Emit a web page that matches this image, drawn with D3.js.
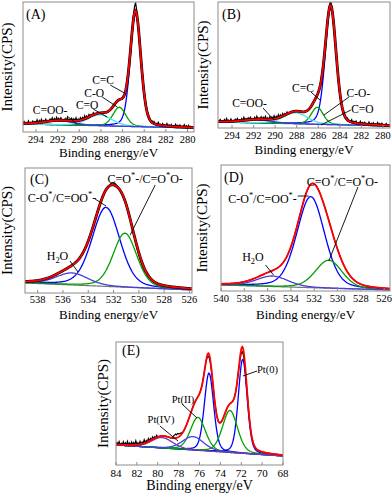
<!DOCTYPE html>
<html>
<head>
<meta charset="utf-8">
<script src="https://cdnjs.cloudflare.com/ajax/libs/d3/7.8.5/d3.min.js"></script>
<style>
	body { margin: 0; background: #fff; }
	text { font-family: "Liberation Serif", "Times New Roman", serif; fill: #000; }
</style>
</head>
<body>
<svg id="fig" width="392" height="494" font-family="Liberation Serif, Times New Roman, serif"></svg>
<script>

// ---- data ---------------------------------------------------------------
// fitted peaks: centre (eV), height and FWHM in intensity units, baseline at both ends

// (A) C 1s
const aTicks   = [294, 292, 290, 288, 286, 284, 282, 280];
const aNames   = ["C=C", "C-O", "C=O", "C=OO-"];
const aCenters = [284.8, 286.3, 288.1, 291.8];
const aHeights = [114, 19, 11, 4];
const aFwhm    = [1.15, 1.4, 2.6, 3.2];
const aBase    = [8, 4];
const aNoise   = [[295.1, 2], [294.9, 1], [294.7, 2.5], [294.5, 1], [294.3, 2], [294.1, 1.5], [293.9, 3], [293.7, 2],
	[293.5, 3], [293.3, 1.5], [293.1, 2.5], [292.9, 1], [292.7, 2], [292.5, 3], [292.3, 2], [292.1, 3], [291.9, 2],
	[291.7, 2.5], [291.5, 1], [291.3, 2], [291.1, 3], [290.9, 1.5], [290.7, 2.5], [290.5, 2], [290.3, 3], [290.1, 1.5],
	[289.9, 2.5], [289.7, 2], [289.5, 3], [289.3, 2], [289.1, 2.5], [288.9, 1.5], [288.7, 2],
	[285.0, 3], [284.9, 6], [284.8, 8], [284.7, 4],
	[284.2, 2], [284.1, 3], [284.0, 3], [283.9, 2.5], [283.8, 2], [283.7, 2],
	[283.3, 1.5], [283.1, 2], [282.9, 1], [282.7, 2.5], [282.5, 1], [282.3, 2], [282.1, 1], [281.9, 2.5], [281.7, 1.5],
	[281.5, 2], [281.3, 1], [281.1, 2.5], [280.9, 1.5], [280.7, 2], [280.5, 1], [280.3, 2.5], [280.1, 1.5], [279.9, 2], [279.7, 1]];

// (B) C 1s
const bTicks   = [294, 292, 290, 288, 286, 284, 282, 280];
const bNames   = ["C=C", "C-O-", "C=O", "C=OO-"];
const bCenters = [284.85, 286.1, 288.1, 291.6];
const bHeights = [117, 17, 11, 3];
const bFwhm    = [1.2, 1.3, 2.6, 3.2];
const bBase    = [6, 2];
const bNoise   = [[295.1, 2], [294.9, 1], [294.7, 2], [294.5, 3], [294.3, 1.5], [294.1, 2.5], [293.9, 1], [293.7, 2],
	[293.5, 2.5], [293.3, 1], [293.1, 2], [292.9, 3], [292.7, 1.5], [292.5, 2], [292.3, 2.5], [292.1, 1], [291.9, 2],
	[291.7, 3], [291.5, 1.5], [291.3, 2.5], [291.1, 2], [290.9, 3], [290.7, 1.5], [290.5, 2.5], [290.3, 2], [290.1, 3],
	[289.9, 2], [289.7, 3], [289.5, 2], [289.3, 2.5], [289.1, 1.5], [288.9, 2],
	[285.0, 2], [284.9, 3], [284.8, 3], [284.7, 1],
	[283.3, 2], [283.1, 1], [282.9, 2.5], [282.7, 1.5], [282.5, 2], [282.3, 1], [282.1, 2.5], [281.9, 1.5], [281.7, 2],
	[281.5, 1], [281.3, 2.5], [281.1, 1.5], [280.9, 2], [280.7, 1], [280.5, 2.5], [280.3, 1.5], [280.1, 2], [279.9, 1], [279.7, 2]];

// (C) O 1s
const cTicks   = [538, 536, 534, 532, 530, 528, 526];
const cNames   = ["C-O*/C=OO*-", "C=O*-/C=O*O-", "H_2O"];
const cCenters = [532.6, 531.1, 535.3];
const cHeights = [79, 54, 12];
const cFwhm    = [2.6, 2.2, 3.0];
const cBase    = [10, 3];
const cNoise   = [[532.2, 1.5], [532.1, 2], [532.0, 2], [531.9, 2], [531.8, 1.5], [531.7, 1],
	[530.2, -1.5], [530.1, -2], [530.0, -2], [529.9, -2], [529.8, -2], [529.7, -1.5], [529.6, -1.5], [529.5, -1]];

// (D) O 1s
const dTicks   = [540, 538, 536, 534, 532, 530, 528, 526];
const dNames   = ["C-O*/C=OO*-", "C=O*/C=O*O-", "H_2O"];
const dCenters = [532.3, 530.75, 535.6];
const dHeights = [91, 28, 10.5];
const dFwhm    = [2.8, 2.7, 3.2];
const dBase    = [6, 1];
const dNoise   = [];

// (E) Pt 4f
const eTicks   = [84, 82, 80, 78, 76, 74, 72, 70, 68];
const eNames   = ["Pt(0)", "Pt(0)", "Pt(II)", "Pt(II)", "Pt(IV)", "Pt(IV)"];
const eCenters = [71.86, 75.09, 73.08, 76.15, 76.62, 79.59];
const eHeights = [94, 78, 42, 33, 13.5, 10.5];
const eFwhm    = [1.0, 1.05, 1.7, 1.7, 2.4, 2.4];
const eBase    = [20, 9];
const eNoise   = [[83.9, 2], [83.7, 3], [83.5, 1.5], [83.3, 3], [83.1, 2], [82.9, 3.5], [82.7, 2], [82.5, 3], [82.3, 2.5],
	[82.1, 4], [81.9, 2], [81.7, 3], [81.5, 2], [81.3, 3.5], [81.1, 2], [80.9, 3], [80.7, 2], [80.5, 2.5], [80.3, 1.5], [80.1, 2],
	[78.5, 2], [78.4, 3], [78.3, 4], [78.2, 3], [78.1, 4], [78.0, 3], [77.9, 2.5], [77.8, 2], [77.7, 1],
	[75.3, -1.5], [75.2, -2.5], [75.1, -3], [75.0, -3], [74.9, -2], [74.8, -1],
	[72.2, -2], [72.1, -3], [72.0, -4], [71.9, -5], [71.8, -5], [71.7, -4], [71.6, -3], [71.5, -1.5]];


// ---- layout ---------------------------------------------------------------

let panels = [
	{ key: "A", box: [23, 2, 194, 132], dom: [295.2, 279.4], ticks: aTicks, names: aNames, centers: aCenters,
	  heights: aHeights, fwhm: aFwhm, base: aBase, noise: aNoise, halo: true,
	  colors: ["#0000ff", "#00a000", "#4fe3e3", "#3a3ae6"],
	  tagPos: [26, 19], ylabX: 12, tickY: 143, titleY: 157, tickFont: 10.5, titleFont: 13, yFont: 15, noteFont: 11.5,
	  // [label index, text eV, text I, line from eV, I, line to eV, I]
	  notes: [[0, 287.8, 48, 287.14, 47, 285.66, 38], [1, 288.62, 35, 287.88, 35, 286.49, 25],
	          [2, 289.27, 23, 288.72, 23, 287.42, 15], [3, 292.7, 18, 291.13, 16, 290.2, 8]] },
	{ key: "B", box: [218, 2, 390, 128], dom: [295.3, 279.35], ticks: bTicks, names: bNames, centers: bCenters,
	  heights: bHeights, fwhm: bFwhm, base: bBase, noise: bNoise, halo: true,
	  colors: ["#0000ff", "#00a000", "#4fe3e3", "#3a3ae6"],
	  tagPos: [222, 19], ylabX: 208, tickY: 139, titleY: 154, tickFont: 10.5, titleFont: 13, yFont: 15, noteFont: 11.5,
	  notes: [[0, 287.42, 36, 286.68, 36, 285.84, 28], [1, 282.28, 31, 283.16, 31, 285.47, 13],
	          [2, 281.91, 15, 282.97, 18, 285.75, 3], [3, 292.38, 21, 291.13, 20, 290.11, 8]] },
	{ key: "C", box: [25, 168, 192, 293], dom: [539, 525.8], ticks: cTicks, names: cNames, centers: cCenters,
	  heights: cHeights, fwhm: cFwhm, base: cBase, noise: cNoise, halo: true,
	  colors: ["#0000ff", "#00a000", "#4a3ed8"],
	  tagPos: [30, 184], ylabX: 12, tickY: 303, titleY: 319, tickFont: 10.5, titleFont: 13, yFont: 15, noteFont: 12,
	  notes: [[0, 536.08, 91, 533.46, 94, 532.59, 87], [1, 529.5, 110, 528.71, 108, 530.69, 58],
	          [2, 536.43, 33, 535.44, 32, 534.81, 21]] },
	{ key: "D", box: [221, 165, 390, 291], dom: [540, 525.5], ticks: dTicks, names: dNames, centers: dCenters,
	  heights: dHeights, fwhm: dFwhm, base: dBase, noise: dNoise, halo: false,
	  colors: ["#0000ff", "#00a000", "#4a3ed8"],
	  tagPos: [224, 182], ylabX: 207, tickY: 302, titleY: 319, tickFont: 10.5, titleFont: 13, yFont: 15, noteFont: 12,
	  notes: [[0, 536.44, 88, 533.42, 95, 532.47, 95], [1, 529.59, 105, 528.25, 104, 530.75, 30],
	          [2, 537.26, 30, 536.18, 26, 535.49, 16]] },
	{ key: "E", box: [116, 342, 283, 465], dom: [84, 68], ticks: eTicks, names: eNames, centers: eCenters,
	  heights: eHeights, fwhm: eFwhm, base: eBase, noise: eNoise, halo: false,
	  colors: ["#0000ff", "#0000ff", "#00a000", "#00a000", "#4040e0", "#7038b8"],
	  tagPos: [122, 355], ylabX: 108, tickY: 477, titleY: 490, tickFont: 11, titleFont: 14, yFont: 15, noteFont: 10.5,
	  notes: [[0, 70.49, 92, 70.49, 94, 71.84, 89, "start"], [2, 77.58, 62, 77.68, 61, 76.24, 47],
	          [4, 79.69, 42, 79.79, 39, 78.06, 24]] }
];

const svg = d3.select("#fig");


function peakShape (e, c, h, w) {
	// Gaussian-Lorentzian mix, as used by the fit
	let t = (e - c) / w;
	return h * (0.75 * Math.exp(-4 * Math.LN2 * t * t) + 0.25 / (1 + 4 * t * t));
}

function richText (sel, str, size) {
	// '*' -> superscript, '_x' -> subscript x
	let segs = [],
		i = 0;
	while (i < str.length) {
		let ch = str[i];
		if (ch === "*") {
			segs.push({ t: "*", shift: -size * 0.38, fs: size * 0.7 });
			i++;
		} else if (ch === "_") {
			segs.push({ t: str[i + 1], shift: size * 0.28, fs: size * 0.7 });
			i += 2;
		} else {
			let last = segs[segs.length - 1];
			if (last && last.shift === 0) last.t += ch;
			else segs.push({ t: ch, shift: 0, fs: size });
			i++;
		}
	}
	let prev = 0;
	segs.forEach(function (s) {
		sel.append("tspan")
			.attr("dy", s.shift - prev)
			.attr("font-size", s.fs)
			.text(s.t);
		prev = s.shift;
	});
}

function drawPanel (p) {

	let [bx0, by0, bx1, by1] = p.box;

	let x = d3.scaleLinear().domain(p.dom).range([bx0, bx1]),
		y = d3.scaleLinear().domain([0, by1 - by0]).range([by1, by0]);

	let g = svg.append("g");

	svg.append("clipPath").attr("id", "clip" + p.key)
		.append("rect")
			.attr("x", bx0).attr("y", by0)
			.attr("width", bx1 - bx0).attr("height", by1 - by0);

	let plot = g.append("g").attr("clip-path", "url(#clip" + p.key + ")");

	let lo = Math.min(p.dom[0], p.dom[1]),
		hi = Math.max(p.dom[0], p.dom[1]);

	let grid = d3.range(Math.round(lo * 20), Math.round(hi * 20) + 1).map(k => k / 20);

	let base = e => p.base[0] + (p.base[1] - p.base[0]) * (e - p.dom[0]) / (p.dom[1] - p.dom[0]),
		comp = (i, e) => peakShape(e, p.centers[i], p.heights[i], p.fwhm[i]),
		env  = e => base(e) + d3.sum(p.centers, (c, i) => comp(i, e));

	let line = d3.line().x(d => x(d[0])).y(d => y(d[1]));

	// baseline
	plot.append("path")
		.datum(grid.map(e => [e, base(e)]))
		.attr("d", line)
		.attr("fill", "none")
		.attr("stroke", "#6f7a70")
		.attr("stroke-width", 1.2);

	// fitted components
	p.centers.forEach(function (c, i) {
		plot.append("path")
			.datum(grid.map(e => [e, base(e) + comp(i, e)]))
			.attr("d", line)
			.attr("fill", "none")
			.attr("stroke", p.colors[i])
			.attr("stroke-width", 1.3);
	});

	// measured curve
	if (p.halo) {
		plot.append("path")
			.datum(grid.map(e => [e, env(e)]))
			.attr("d", line)
			.attr("fill", "none")
			.attr("stroke", "#000")
			.attr("stroke-width", 2.8);
	}

	let noise = new Map(p.noise.map(d => [Math.round(d[0] * 10), d[1]]));
	let grid10 = d3.range(Math.ceil(lo * 10), Math.floor(hi * 10) + 1);

	plot.append("path")
		.datum(grid10.map(k => [k / 10, env(k / 10) + (noise.get(k) || 0)]))
		.attr("d", line)
		.attr("fill", "none")
		.attr("stroke", "#000")
		.attr("stroke-width", 1.2);

	// envelope
	plot.append("path")
		.datum(grid.map(e => [e, env(e)]))
		.attr("d", line)
		.attr("fill", "none")
		.attr("stroke", "#ff0000")
		.attr("stroke-width", 1.8);

	// frame
	g.append("rect")
		.attr("x", bx0).attr("y", by0)
		.attr("width", bx1 - bx0).attr("height", by1 - by0)
		.attr("fill", "none")
		.attr("stroke", "#8c8c8c")
		.attr("stroke-width", 1);

	// x ticks
	g.selectAll(".tk")
		.data(p.ticks)
		.enter()
			.append("line")
				.attr("x1", d => x(d)).attr("x2", d => x(d))
				.attr("y1", by1).attr("y2", by1 - 3)
				.attr("stroke", "#8c8c8c");

	g.selectAll(".tl")
		.data(p.ticks)
		.enter()
			.append("text")
				.attr("x", d => x(d))
				.attr("y", p.tickY)
				.attr("text-anchor", "middle")
				.attr("font-size", p.tickFont)
				.text(d => d);

	g.append("text")
		.attr("x", (bx0 + bx1) / 2)
		.attr("y", p.titleY)
		.attr("text-anchor", "middle")
		.attr("font-size", p.titleFont)
		.text("Binding energy/eV");

	g.append("text")
		.attr("transform", "translate(" + p.ylabX + "," + (by0 + by1) / 2 + ") rotate(-90)")
		.attr("text-anchor", "middle")
		.attr("font-size", p.yFont)
		.text("Intensity(CPS)");

	g.append("text")
		.attr("x", p.tagPos[0])
		.attr("y", p.tagPos[1])
		.attr("font-size", 14)
		.text("(" + p.key + ")");

	// peak labels with leader lines
	p.notes.forEach(function (n) {
		let t = g.append("text")
			.attr("x", x(n[1]))
			.attr("y", y(n[2]))
			.attr("text-anchor", n[7] || "middle")
			.attr("font-size", p.noteFont);
		richText(t, p.names[n[0]], p.noteFont);

		g.append("line")
			.attr("x1", x(n[3])).attr("y1", y(n[4]))
			.attr("x2", x(n[5])).attr("y2", y(n[6]))
			.attr("stroke", "#000")
			.attr("stroke-width", 0.9);
	});
}

panels.forEach(drawPanel);

</script>
</body>
</html>
